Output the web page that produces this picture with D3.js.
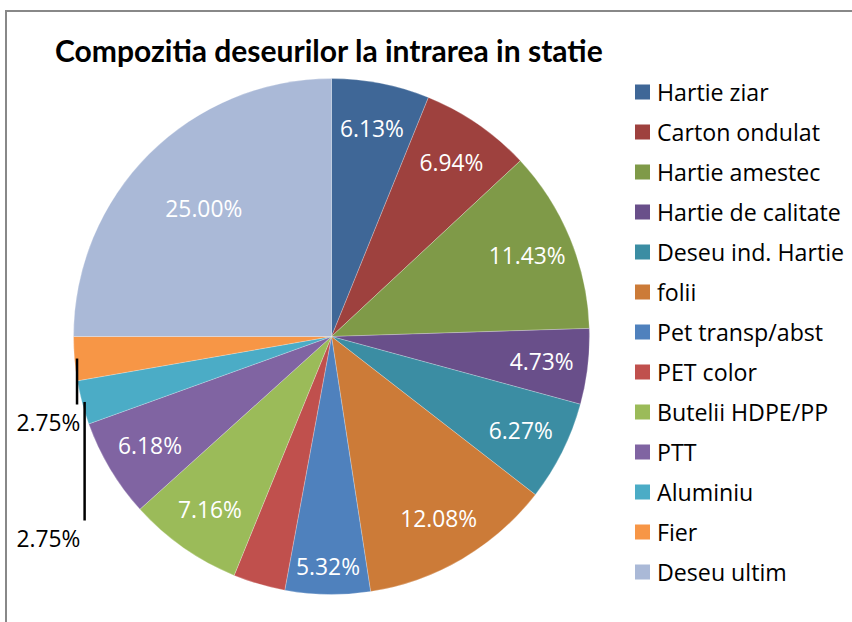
<!DOCTYPE html>
<html><head><meta charset="utf-8">
<script src="https://cdn.jsdelivr.net/npm/d3@7"></script>
<style>body{margin:0;background:#fff;} svg{display:block;}</style>
</head><body>
<script>
const categories = ["Hartie ziar","Carton ondulat","Hartie amestec","Hartie de calitate","Deseu ind. Hartie","folii","Pet transp/abst","PET color","Butelii HDPE/PP","PTT","Aluminiu","Fier","Deseu ultim"];
const values = [6.13,6.94,11.43,4.73,6.27,12.08,5.32,3.26,7.16,6.18,2.75,2.75,25.00];
const colors = ["#3F6797","#9E413E","#7F9A48","#694F8A","#3B8DA3","#CC7B38","#4F81BD","#C0504D","#9BBB59","#8064A2","#4BACC6","#F79646","#AAB9D7"];
const showLabel = [true,true,true,true,true,true,true,false,true,true,true,true,true];

const W=852,H=622, cx=331.5, cy=336.5, R=258;
const font = "'Open Sans', 'Liberation Sans', sans-serif";
const tfont = "Lato, 'Liberation Sans', sans-serif";
const svg=d3.select("body").append("svg").attr("width",W).attr("height",H);
svg.append("rect").attr("width",W).attr("height",H).attr("fill","#fff");
svg.append("path").attr("d",`M6,${H} V11 H${W}`).attr("fill","none").attr("stroke","#888").attr("stroke-width",2);

function fitSize(text, family, weight, target){
  const t=svg.append("text").attr("font-family",family).attr("font-weight",weight).attr("font-size",20).text(text);
  const w=t.node().getComputedTextLength(); t.remove(); return 20*target/w;
}
const legendSize = fitSize("Hartie de calitate", font, "normal", 184);
const labelSize = fitSize("5.32%", font, "normal", 64);

const title = svg.append("text").attr("x",55).attr("y",62).attr("font-family",tfont)
  .attr("font-weight","bold").attr("font-size",fitSize("Compozitia deseurilor la intrarea in statie", tfont, "bold", 548)).attr("fill","#000")
  .text("Compozitia deseurilor la intrarea in statie");

const total=d3.sum(values);
const pie=d3.pie().sort(null).value(d=>d.v).startAngle(0).endAngle(2*Math.PI);
const data=categories.map((c,i)=>({c,v:values[i],col:colors[i],show:showLabel[i]}));
const arcs=pie(data);
const arc=d3.arc().innerRadius(0).outerRadius(R);
const g=svg.append("g").attr("transform",`translate(${cx},${cy})`);
g.selectAll("path").data(arcs).join("path").attr("d",arc).attr("fill",d=>d.data.col)
  .attr("stroke","#fff").attr("stroke-width",0.4).attr("stroke-opacity",0.6);

const fmt=v=>(v/total*100).toFixed(2)+"%";
const inside=arcs.filter(a=>a.data.show && a.data.v/total>=0.03);
g.selectAll("text.lbl").data(inside).join("text").attr("class","lbl")
  .each(function(a){
    const m=(a.startAngle+a.endAngle)/2;
    const share=a.data.v/total;
    const r = share>0.2 ? R*0.70 : (a.index===6 ? R*0.89 : R*0.82);
    d3.select(this).attr("x",r*Math.sin(m)).attr("y",-r*Math.cos(m));
  })
  .attr("text-anchor","middle").attr("dominant-baseline","central")
  .attr("font-family",font).attr("font-size",labelSize).attr("fill","#fff")
  .text(a=>fmt(a.data.v));

const outside=arcs.filter(a=>a.data.show && a.data.v/total<0.03).sort((a,b)=>b.index-a.index);
const lblX=-R-25;
const lblY=[86,202];
outside.forEach((a,k)=>{
  const m=(a.startAngle+a.endAngle)/2;
  const px=0.99*R*Math.sin(m), py=-0.99*R*Math.cos(m);
  g.append("line").attr("x1",px).attr("x2",px).attr("y1",py).attr("y2",lblY[k]-18)
    .attr("stroke","#000").attr("stroke-width",2.5);
  g.append("text").attr("x",lblX).attr("y",lblY[k]).attr("text-anchor","middle")
    .attr("dominant-baseline","central").attr("font-family",font).attr("font-size",labelSize)
    .attr("fill","#000").text(fmt(a.data.v));
});

const lg=svg.append("g").attr("transform","translate(635,92)");
const item=lg.selectAll("g").data(data).join("g").attr("transform",(d,i)=>`translate(0,${i*40.0})`);
item.append("rect").attr("x",0).attr("y",-7.5).attr("width",15).attr("height",15).attr("fill",d=>d.col);
item.append("text").attr("x",22).attr("y",0).attr("dominant-baseline","central")
  .attr("font-family",font).attr("font-size",legendSize).attr("fill","#000").text(d=>d.c);
</script>
</body></html>
